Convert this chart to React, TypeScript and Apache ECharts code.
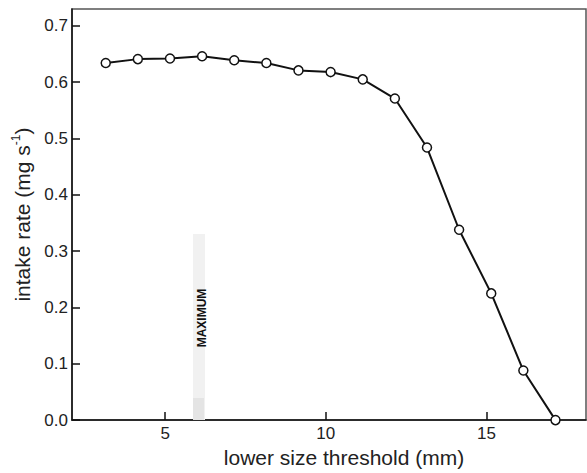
import React, { useEffect, useRef } from "react";
import * as echarts from "echarts";

const xValues = [3.15, 4.15, 5.15, 6.15, 7.15, 8.15, 9.15, 10.15, 11.15, 12.15, 13.15, 14.15, 15.15, 16.15, 17.15];
const intakeRate = [0.634, 0.641, 0.642, 0.646, 0.639, 0.634, 0.621, 0.618, 0.605, 0.571, 0.484, 0.338, 0.225, 0.088, 0.0];
const xTickValues = [5, 10, 15];
const yTickValues = [0, 0.1, 0.2, 0.3, 0.4, 0.5, 0.6, 0.7];
const xAxisTitle = "lower size threshold (mm)";
const annotationText = "MAXIMUM";

const FONT = "'Liberation Sans', Arial, Helvetica, sans-serif";

export default function App() {
  const ref = useRef<HTMLDivElement>(null);
  useEffect(() => {
    if (!ref.current) return;
    const chart = echarts.init(ref.current, null, { renderer: "svg" });
    const data = xValues.map((x, i) => [x, intakeRate[i]]);
    chart.setOption({
      animation: false,
      backgroundColor: "#fff",
      grid: {
        left: 72,
        right: 1,
        top: 9,
        bottom: 49,
        show: true,
        borderColor: "#555",
        borderWidth: 1.5,
        backgroundColor: "transparent",
      },
      xAxis: {
        type: "value",
        min: 2.1,
        max: 18.1,
        splitLine: { show: false },
        axisLine: { show: true, onZero: false, lineStyle: { color: "#111", width: 1.5 } },
        axisTick: {
          show: true,
          inside: true,
          length: 8,
          customValues: xTickValues,
          lineStyle: { color: "#111", width: 1.5 },
        },
        axisLabel: {
          customValues: xTickValues,
          margin: 5,
          color: "#222",
          fontSize: 17,
          fontFamily: FONT,
        },
        name: xAxisTitle,
        nameLocation: "middle",
        nameGap: 24,
        nameTextStyle: { color: "#222", fontSize: 21, fontFamily: FONT, padding: [0, 0, 0, 30] },
      },
      yAxis: {
        type: "value",
        min: 0,
        max: 0.73,
        splitLine: { show: false },
        axisLine: { show: true, onZero: false, lineStyle: { color: "#111", width: 1.5 } },
        axisTick: {
          show: true,
          inside: true,
          length: 8,
          customValues: yTickValues,
          lineStyle: { color: "#111", width: 1.5 },
        },
        axisLabel: {
          customValues: yTickValues,
          margin: 4,
          color: "#222",
          fontSize: 17,
          fontFamily: FONT,
          formatter: (v: number) => v.toFixed(1),
        },
        name: "{a|intake rate (mg s}{sup|-1}{a|)}",
        nameLocation: "middle",
        nameGap: 37,
        nameTextStyle: {
          color: "#222",
          fontSize: 21,
          fontFamily: FONT,
          rich: {
            a: { fontSize: 21, fontFamily: FONT, color: "#222", lineHeight: 23, verticalAlign: "bottom" },
            sup: { fontSize: 12, fontFamily: FONT, color: "#222", lineHeight: 12, verticalAlign: "top" },
          },
        },
      },
      graphic: [
        {
          type: "rect",
          silent: true,
          shape: { x: 193, y: 234, width: 12, height: 186 },
          style: { fill: "#f1f1f1" },
          z: 1,
        },
        {
          type: "rect",
          silent: true,
          shape: { x: 193, y: 398, width: 11, height: 22 },
          style: { fill: "#e4e4e4" },
          z: 1,
        },
        {
          type: "text",
          silent: true,
          x: 202,
          y: 318,
          rotation: Math.PI / 2,
          style: {
            text: annotationText,
            fontSize: 12,
            fontWeight: "bold",
            fontFamily: FONT,
            fill: "#111",
            align: "center",
            verticalAlign: "middle",
          },
          z: 2,
        },
      ],
      series: [
        {
          type: "line",
          data,
          clip: false,
          symbol: "circle",
          symbolSize: 9,
          lineStyle: { color: "#111", width: 2 },
          itemStyle: { color: "#fff", borderColor: "#111", borderWidth: 1.5 },
          z: 5,
        },
      ],
    });
    return () => chart.dispose();
  }, []);
  return (
    <div
      ref={ref}
      style={{ position: "absolute", left: 0, top: 0, width: 587, height: 473 }}
    />
  );
}
